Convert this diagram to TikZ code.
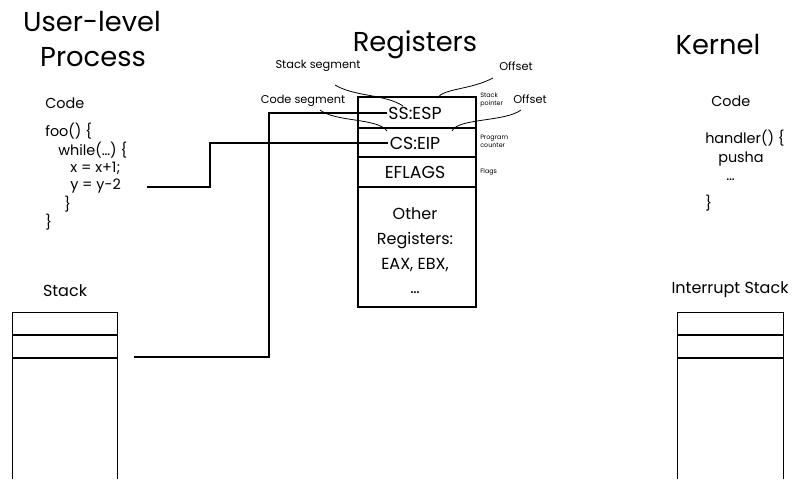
\documentclass[tikz,border=0pt]{standalone}
\usepackage{fontspec}
\setmainfont{Poppins}
\usepackage{tikz}

\tikzset{
	title/.style={font=\fontsize{20.5}{24}\selectfont},
	codetxt/.style={font=\fontsize{10.8}{12}\selectfont, anchor=west, inner sep=0pt},
	regtxt/.style={font=\fontsize{13}{15}\selectfont, inner sep=1pt},
	tag/.style={font=\fontsize{8.5}{10}\selectfont, inner sep=0pt},
	tinytag/.style={font=\fontsize{4.8}{5.8}\selectfont, anchor=west, inner sep=0pt, align=left},
	stacktxt/.style={font=\fontsize{12}{14}\selectfont, inner sep=0pt},
	thick line/.style={line width=1.5pt},
	thin line/.style={line width=0.6pt}
}

\begin{document}
\begin{tikzpicture}[x=0.75pt, y=-0.75pt]
			\useasboundingbox (0,0) rectangle (810,479);
			% headings
			\node[title] (user) at (92,22) {User-level};
			\node[title] (proc) at (93,57) {Process};
			\node[title] (regs) at (415,45) {Registers};
			\node[title] (kern) at (718,45) {Kernel};
			% user code
			\node[codetxt] (ucode) at (45,103) {Code};
			\node[codetxt] (foo) at (45,131) {foo() \{};
			\node[codetxt] (while) at (58,150) {while(\ldots) \{};
			\node[codetxt] (xinc) at (70,168) {x = x+1;};
			\node[codetxt] (ydec) at (70,186) {y = y-2};
			\node[codetxt] (wend) at (64,204) {\}};
			\node[codetxt] (fend) at (45,222) {\}};
			% kernel code
			\node[codetxt] (kcode) at (711,101) {Code};
			\node[codetxt] (hdl) at (705,138) {handler() \{};
			\node[codetxt] (push) at (718,159) {pusha};
			\node[codetxt] (kdots) at (726,180) {\ldots};
			\node[codetxt] (hend) at (705,203) {\}};
			% register file
			\draw[thick line] (358,97) rectangle (476,307);
			\draw[thick line] (358,128) -- (476,128);
			\draw[thick line] (358,157) -- (476,157);
			\draw[thick line] (358,187) -- (476,187);
			\node[regtxt] (ssesp) at (415,113) {SS:ESP};
			\node[regtxt] (cseip) at (415,143) {CS:EIP};
			\node[regtxt] (eflags) at (415,172) {EFLAGS};
			\node[regtxt, align=center, font=\fontsize{12}{18.5}\selectfont] (other) at (415,251) {Other\\Registers:\\EAX, EBX,\\\ldots};
			% labels
			\node[tag] (sseg) at (318,66) {Stack segment};
			\node[tag] (off1) at (516,66) {Offset};
			\node[tag] (cseg) at (303,101) {Code segment};
			\node[tag] (off2) at (530,99) {Offset};
			\node[tinytag] (sptr) at (480,100) {Stack\\pointer};
			\node[tinytag] (pc) at (480,141) {Program\\counter};
			\node[tinytag] (flg) at (480,172) {Flags};
			\draw[thin line] (335,85) .. controls (355,97) and (385,94) .. (403,106);
			\draw[thin line] (493,78) .. controls (470,90) and (445,88) .. (437,98);
			\draw[thin line] (320,110) .. controls (335,122) and (378,118) .. (387,131);
			\draw[thin line] (521,110) .. controls (505,122) and (458,118) .. (452,131);
			% stacks
			\node[stacktxt] (ustack) at (65,291) {Stack};
			\draw[thin line] (12,479) -- (12,312) -- (117,312) -- (117,479);
			\draw[thick line] (12,335) -- (117,335);
			\draw[thick line] (12,358) -- (117,358);
			\node[stacktxt] (kstack) at (730,290) {Interrupt Stack};
			\draw[thin line] (677,479) -- (677,312) -- (783,312) -- (783,479);
			\draw[thick line] (677,335) -- (783,335);
			\draw[thick line] (677,358) -- (783,358);
			% connectors
			\coordinate (pcsrc) at (147,187);
			\coordinate (spsrc) at (134,357);
			\draw[thick line] (pcsrc) -- ++(63,0) |- (cseip.west);
			\draw[thick line] (spsrc) -- ++(135,0) |- (ssesp.west);
	\end{tikzpicture}
\end{document}
